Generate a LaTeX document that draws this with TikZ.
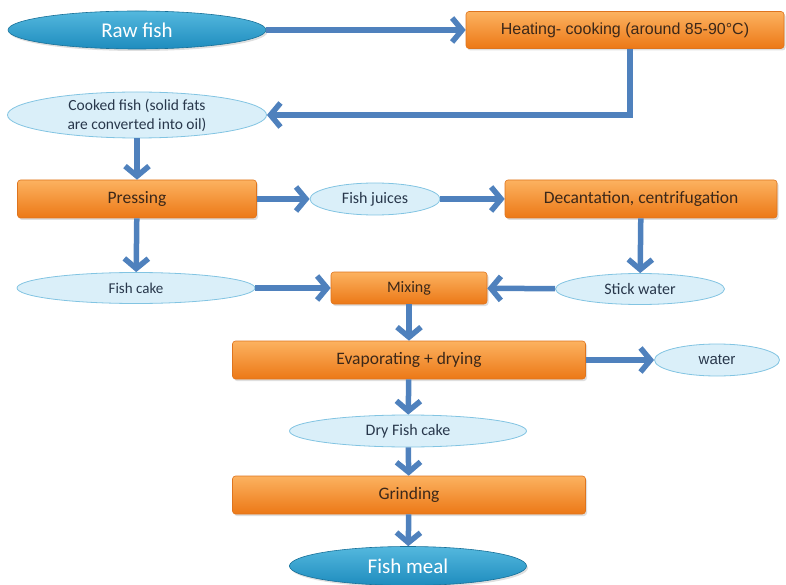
\documentclass[tikz,border=0pt]{standalone}
\usepackage{fontspec}
\setmainfont{Carlito}
\newfontfamily\arialf{Liberation Sans}
\usetikzlibrary{shapes.geometric,arrows.meta,shadows}
\definecolor{arrowblue}{RGB}{79,129,189}
\definecolor{orangetop}{RGB}{252,178,96}
\definecolor{orangebot}{RGB}{236,120,22}
\definecolor{orangeline}{RGB}{222,116,30}
\definecolor{boxtext}{RGB}{60,40,25}
\definecolor{lightfill}{RGB}{218,239,249}
\definecolor{lightline}{RGB}{130,196,226}
\definecolor{darktop}{RGB}{84,184,222}
\definecolor{darkbot}{RGB}{30,140,190}
\definecolor{lighttext}{RGB}{40,55,75}
\tikzset{
  procbox/.style={rectangle, rounded corners=3pt, draw=orangeline, line width=0.6pt,
    top color=orangetop, bottom color=orangebot, text=boxtext,
    drop shadow={shadow xshift=1.5pt, shadow yshift=-2pt, opacity=0.25},
    inner sep=0pt, font=\fontsize{17.5}{20}\selectfont},
  lightell/.style={ellipse, draw=lightline, line width=0.8pt, fill=lightfill,
    text=lighttext, inner sep=0pt, align=center, font=\fontsize{16}{18}\selectfont},
  darkell/.style={ellipse, draw=darkbot!80!black, line width=0.6pt,
    top color=darktop, bottom color=darkbot, text=white, inner sep=0pt,
    drop shadow={shadow xshift=1.5pt, shadow yshift=-2pt, opacity=0.25},
    font=\fontsize{21}{24}\selectfont},
  flow/.style={draw=arrowblue, line width=5.5pt,
    -{Straight Barb[length=10pt,width=24pt]}},
}
\begin{document}
\begin{tikzpicture}[x=1pt,y=-1pt]
\useasboundingbox (0,0) rectangle (786,585);
% nodes
\node[darkell, minimum width=258, minimum height=38] (raw) at (137,30) {Raw fish};
\node[procbox, minimum width=318, minimum height=37] (heat) at (625,30) {\arialf\fontsize{16}{18}\selectfont Heating- cooking (around 85-90\textdegree C)};
\node[lightell, minimum width=259, minimum height=46, font=\fontsize{15.5}{19}\selectfont] (cooked) at (137,115) {Cooked fish (solid fats\\are converted into oil)};
\node[procbox, minimum width=239, minimum height=38] (press) at (137,199) {Pressing};
\node[lightell, minimum width=130, minimum height=32] (juice) at (375,199) {Fish juices};
\node[procbox, minimum width=272, minimum height=38] (decant) at (641,199) {Decantation, centrifugation};
\node[lightell, minimum width=238, minimum height=31, font=\fontsize{15}{18}\selectfont] (cake) at (136,288) {Fish cake};
\node[procbox, minimum width=156, minimum height=32, font=\fontsize{16}{18}\selectfont] (mix) at (409,288) {Mixing};
\node[lightell, minimum width=169, minimum height=31] (stick) at (640,289) {Stick water};
\node[procbox, minimum width=353, minimum height=38] (evap) at (409,360) {Evaporating + drying};
\node[lightell, minimum width=125, minimum height=32, font=\arialf\fontsize{15}{18}\selectfont] (water) at (717,360) {water};
\node[lightell, minimum width=237, minimum height=32] (dry) at (408,431) {Dry Fish cake};
\node[procbox, minimum width=353, minimum height=38] (grind) at (409,495) {Grinding};
\node[darkell, minimum width=237, minimum height=39] (meal) at (408,566) {Fish meal};
% connectors
\draw[flow] (raw) -- (heat);
\draw[flow] ([xshift=5pt]heat.south) |- (cooked.east);
\draw[flow] (cooked) -- (press);
\draw[flow] (press) -- (juice);
\draw[flow] (juice) -- (decant);
\draw[flow] (press) -- (cake);
\draw[flow] (decant) -- (stick);
\draw[flow] (cake) -- (mix);
\draw[flow] (stick) -- (mix);
\draw[flow] (mix) -- (evap);
\draw[flow] (evap) -- (water);
\draw[flow] (evap) -- (dry);
\draw[flow] (dry) -- (grind);
\draw[flow] (grind) -- (meal);
\end{tikzpicture}
\end{document}
